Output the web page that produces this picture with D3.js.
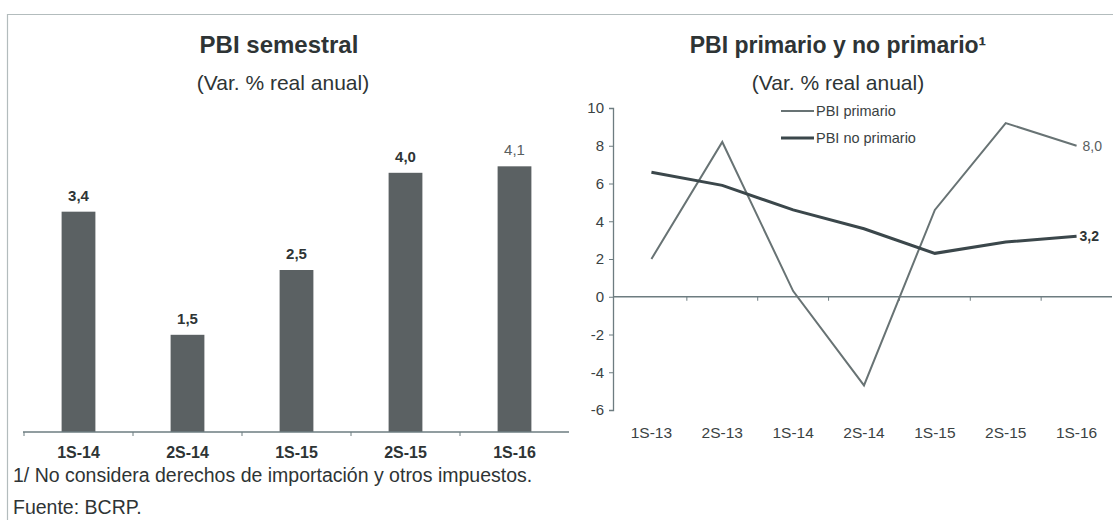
<!DOCTYPE html>
<html>
<head>
<meta charset="utf-8">
<script src="https://cdn.jsdelivr.net/npm/d3@7"></script>
<style>
  body { margin: 0; background: #fff; }
  svg text { font-family: 'Liberation Sans', Arial, sans-serif; }
</style>
</head>
<body>
<div id="chart"></div>
<script>
// PBI semestral
const barCategories = ['1S-14', '2S-14', '1S-15', '2S-15', '1S-16'];
const barValues = [3.4, 1.5, 2.5, 4.0, 4.1];

// PBI primario y no primario
const lineCategories = ['1S-13', '2S-13', '1S-14', '2S-14', '1S-15', '2S-15', '1S-16'];
const primario = [2.0, 8.2, 0.3, -4.7, 4.6, 9.2, 8.0];
const noPrimario = [6.6, 5.9, 4.6, 3.6, 2.3, 2.9, 3.2];
const yTicks = [-6, -4, -2, 0, 2, 4, 6, 8, 10];

var W = 1113, H = 520;
var textColor = '#2e3435';
var axisColor = '#6d7c80';

var svg = d3.select('#chart')
  .append('svg')
  .attr('width', W)
  .attr('height', H);

// frame
svg.append('line')
  .attr('x1', 7).attr('x2', W).attr('y1', 14.5).attr('y2', 14.5)
  .attr('stroke', '#b3bcbd').attr('stroke-width', 1.2);
svg.append('line')
  .attr('x1', 7.5).attr('x2', 7.5).attr('y1', 14).attr('y2', H)
  .attr('stroke', '#b3bcbd').attr('stroke-width', 1.2);

function comma(v) {
  return v.toFixed(1).replace('.', ',');
}

// ---------- bar chart ----------
var xBar = d3.scaleBand()
  .domain(barCategories)
  .range([24, 569])
  .paddingInner(0.69)
  .paddingOuter(0.345);

var yBar = d3.scaleLinear()
  .domain([0, 5])
  .range([432, 108]);

svg.append('text')
  .attr('x', 279).attr('y', 53)
  .attr('text-anchor', 'middle')
  .attr('font-size', 24).attr('font-weight', 'bold')
  .attr('fill', textColor)
  .text('PBI semestral');

svg.append('text')
  .attr('x', 283).attr('y', 90)
  .attr('text-anchor', 'middle')
  .attr('font-size', 21)
  .attr('fill', textColor)
  .text('(Var. % real anual)');

svg.selectAll('.bar')
  .data(barValues)
  .enter()
  .append('rect')
  .attr('class', 'bar')
  .attr('x', function(d, i) { return xBar(barCategories[i]); })
  .attr('y', function(d) { return yBar(d); })
  .attr('width', xBar.bandwidth())
  .attr('height', function(d) { return yBar(0) - yBar(d); })
  .attr('fill', '#5b6163');

svg.selectAll('.barlabel')
  .data(barValues)
  .enter()
  .append('text')
  .attr('class', 'barlabel')
  .attr('x', function(d, i) { return xBar(barCategories[i]) + xBar.bandwidth() / 2; })
  .attr('y', function(d) { return yBar(d) - 11; })
  .attr('text-anchor', 'middle')
  .attr('font-size', 15)
  .attr('font-weight', function(d, i) { return i === barValues.length - 1 ? 'normal' : 'bold'; })
  .attr('fill', function(d, i) { return i === barValues.length - 1 ? '#59605f' : textColor; })
  .text(function(d) { return comma(d); });

var barAxis = svg.append('g')
  .attr('transform', 'translate(0,' + yBar(0) + ')')
  .call(d3.axisBottom(xBar).tickSize(0).tickPadding(15));
barAxis.select('.domain').attr('stroke', axisColor).attr('stroke-width', 1.3)
  .attr('d', 'M23,0H569');
barAxis.selectAll('text')
  .attr('font-family', 'Liberation Sans, sans-serif')
  .attr('font-size', 16).attr('font-weight', 'bold')
  .attr('fill', textColor);
barAxis.selectAll('.bound')
  .data(d3.range(barCategories.length))
  .enter()
  .append('line')
  .attr('class', 'bound')
  .attr('x1', function(i) { return xBar.range()[0] + i * xBar.step(); })
  .attr('x2', function(i) { return xBar.range()[0] + i * xBar.step(); })
  .attr('y1', 0).attr('y2', 4)
  .attr('stroke', axisColor);

svg.append('text')
  .attr('x', 13).attr('y', 482)
  .attr('font-size', 19.5)
  .attr('fill', textColor)
  .text('1/ No considera derechos de importación y otros impuestos.');

svg.append('text')
  .attr('x', 13).attr('y', 514)
  .attr('font-size', 19.5)
  .attr('fill', textColor)
  .text('Fuente: BCRP.');

// ---------- line chart ----------
var xLine = d3.scaleBand()
  .domain(lineCategories)
  .range([616, 1112]);

var yLine = d3.scaleLinear()
  .domain([-6, 10])
  .range([410, 108]);

svg.append('text')
  .attr('x', 838).attr('y', 53)
  .attr('text-anchor', 'middle')
  .attr('font-size', 23).attr('font-weight', 'bold')
  .attr('fill', textColor)
  .text('PBI primario y no primario¹');

svg.append('text')
  .attr('x', 838).attr('y', 90)
  .attr('text-anchor', 'middle')
  .attr('font-size', 21)
  .attr('fill', textColor)
  .text('(Var. % real anual)');

var yAxis = svg.append('g')
  .attr('transform', 'translate(613,0)')
  .call(d3.axisLeft(yLine).tickValues(yTicks).tickSize(4).tickPadding(5)
    .tickFormat(function(d) { return String(d); }));
yAxis.select('.domain').attr('stroke', axisColor).attr('stroke-width', 1.3);
yAxis.selectAll('.tick line').attr('stroke', axisColor);
yAxis.selectAll('text')
  .attr('font-size', 15)
  .attr('fill', '#3a4243');

var xAxis = svg.append('g')
  .attr('transform', 'translate(0,' + yLine(0) + ')');
xAxis.append('line')
  .attr('x1', 613).attr('x2', 1112)
  .attr('stroke', axisColor).attr('stroke-width', 1.3);
xAxis.selectAll('.bound')
  .data(d3.range(1, lineCategories.length))
  .enter()
  .append('line')
  .attr('x1', function(i) { return xLine.range()[0] + i * xLine.step(); })
  .attr('x2', function(i) { return xLine.range()[0] + i * xLine.step(); })
  .attr('y1', 0).attr('y2', 4)
  .attr('stroke', axisColor);

svg.append('g')
  .attr('transform', 'translate(0,' + yLine(-6) + ')')
  .call(d3.axisBottom(xLine).tickSize(0).tickPadding(17))
  .call(function(g) { g.select('.domain').remove(); })
  .selectAll('text')
  .attr('font-size', 15.5)
  .attr('fill', '#3a4243');

var line = d3.line()
  .x(function(d, i) { return xLine(lineCategories[i]) + xLine.bandwidth() / 2; })
  .y(function(d) { return yLine(d); });

svg.append('path')
  .datum(primario)
  .attr('d', line)
  .attr('fill', 'none')
  .attr('stroke', '#687374')
  .attr('stroke-width', 2);

svg.append('path')
  .datum(noPrimario)
  .attr('d', line)
  .attr('fill', 'none')
  .attr('stroke', '#3b474b')
  .attr('stroke-width', 3);

var lastX = xLine(lineCategories[lineCategories.length - 1]) + xLine.bandwidth() / 2;
svg.append('text')
  .attr('x', lastX + 6).attr('y', yLine(primario[primario.length - 1]) + 5)
  .attr('font-size', 14)
  .attr('fill', '#59605f')
  .text(comma(primario[primario.length - 1]));
svg.append('text')
  .attr('x', lastX + 3).attr('y', yLine(noPrimario[noPrimario.length - 1]) + 5)
  .attr('font-size', 14).attr('font-weight', 'bold')
  .attr('fill', textColor)
  .text(comma(noPrimario[noPrimario.length - 1]));

// legend
var legend = [
  { name: 'PBI primario', color: '#687374', width: 2, y: 111 },
  { name: 'PBI no primario', color: '#3b474b', width: 3, y: 138 }
];
var lg = svg.selectAll('.legend')
  .data(legend)
  .enter()
  .append('g')
  .attr('class', 'legend')
  .attr('transform', function(d) { return 'translate(781,' + d.y + ')'; });
lg.append('line')
  .attr('x1', 0).attr('x2', 33)
  .attr('stroke', function(d) { return d.color; })
  .attr('stroke-width', function(d) { return d.width; });
lg.append('text')
  .attr('x', 35).attr('y', 5)
  .attr('font-size', 14.5)
  .attr('fill', '#3a4243')
  .text(function(d) { return d.name; });
</script>
</body>
</html>
